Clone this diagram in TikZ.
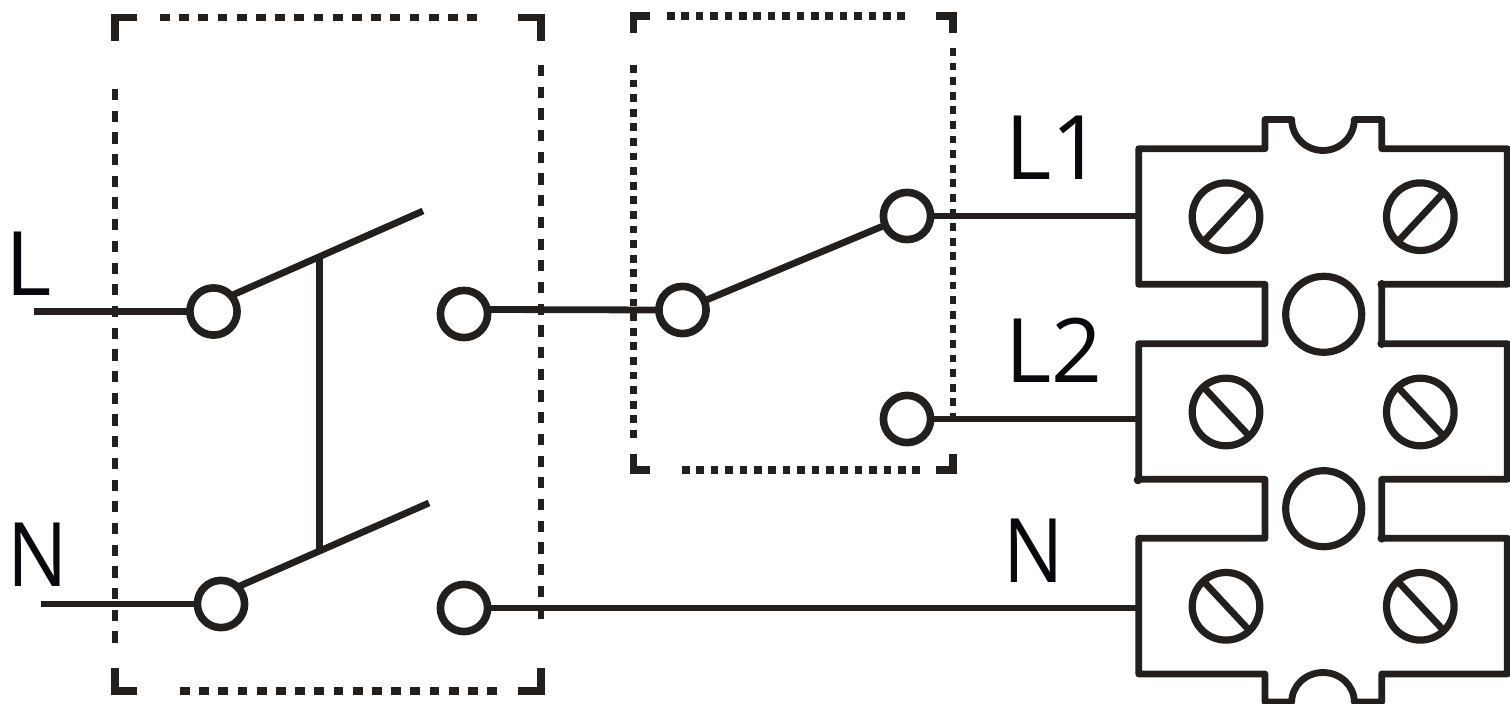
\documentclass[tikz,border=0pt]{standalone}
\usepackage{fontspec}
\setmainfont{Open Sans}
\definecolor{ink}{RGB}{35,31,28}
\definecolor{labelink}{RGB}{8,9,12}
\tikzset{
  wire/.style={draw=ink,line width=3.4pt},
  contact/.style={circle,draw=ink,line width=3.8pt,minimum size=23.6pt,inner sep=0pt,outer sep=0pt},
  screw/.style={circle,draw=ink,line width=3.6pt,minimum size=33.8pt,inner sep=0pt,outer sep=0pt},
  hole/.style={circle,draw=ink,line width=3.6pt,minimum size=38pt,inner sep=0pt,outer sep=0pt},
  slot/.style={draw=ink,line width=3.4pt},
  corner/.style={draw=ink,line width=3.6pt,line join=miter},
  dashA/.style={draw=ink,line width=3.6pt,dash pattern=on 4.9pt off 4.7pt},
  dashV/.style={draw=ink,line width=3.3pt,dash pattern=on 5.6pt off 5.25pt},
  dotsH/.style={draw=ink,line width=3.6pt,dash pattern=on 3.8pt off 3.4pt},
  dotsV/.style={draw=ink,line width=3.4pt,dash pattern=on 3.9pt off 3.4pt},
  lbl/.style={text=labelink,inner sep=0pt,outer sep=0pt,anchor=base west,font=\fontsize{44.5pt}{50pt}\selectfont},
  blob/.style={fill=ink,draw=none}
}
\begin{document}
\begin{tikzpicture}[x=0.5pt,y=-0.5pt]
\useasboundingbox (0,0) rectangle (1510,704);
% left dashed box
\draw[corner] (137,17.5) -- (115,17.5) -- (115,41);
\draw[corner] (518,17.5) -- (541,17.5) -- (541,41);
\draw[corner] (115,668) -- (115,691) -- (137,691);
\draw[corner] (518,691) -- (541,691) -- (541,668);
\draw[dashA] (160,17.5) -- (478,17.5);
\draw[dashA] (180,691) -- (498,691);
\draw[dashV] (115,89) -- (115,645);
\draw[dashV] (541,65) -- (541,621);
% right dotted box
\draw[corner] (650,16) -- (633.5,16) -- (633.5,33);
\draw[corner] (936,16) -- (953,16) -- (953,33);
\draw[corner] (633.5,454) -- (633.5,470) -- (650,470);
\draw[corner] (936,470) -- (953,470) -- (953,454);
\draw[dotsH] (667,16) -- (905,16);
\draw[dotsH] (682,470) -- (920,470);
\draw[dotsV] (633.5,65) -- (633.5,438);
\draw[dotsV] (953,48) -- (953,416);
% contacts
\node[contact] (c1) at (213.5,311.5) {};
\node[contact] (c2) at (464,314) {};
\node[contact] (c3) at (221,604) {};
\node[contact] (c4) at (464,608) {};
\node[contact] (c5) at (682.5,310) {};
\node[contact] (c6) at (907,216) {};
\node[contact] (c7) at (907,419) {};
\coordinate (inL) at (34,311.5);
\coordinate (inN) at (41,604);
\coordinate (b1) at (423,211);
\coordinate (b2) at (429,503);
\coordinate (j1) at (319.5,256);
\coordinate (j2) at (319.5,550);
\coordinate (t1) at (1138.7,216);
\coordinate (t2) at (1138.7,419);
\coordinate (t3) at (1138.7,608);
% wires
\draw[wire] (inL) -- (c1);
\draw[wire] (inN) -- (c3);
\draw[wire] (c1.42) -- (b1);
\draw[wire] (c3.46) -- (b2);
\draw[wire] (j1) -- (j2);
\draw[wire] (c2.11) -- (c5.west);
\draw[wire] (c5) -- (c6);
\draw[wire] (c6) -- (t1);
\draw[wire] (c7) -- (t2);
\draw[wire] (c4) -- (t3);
% terminal block
\draw[draw=ink,line width=3.4pt,line join=round]
  (1138.7,148.7) -- (1265,148.7) -- (1265,119.5) -- (1291.7,119.5)
  arc[start angle=180,end angle=360,x radius=31.3,y radius=-31]
  -- (1381.7,119.5) -- (1381.7,148.7) -- (1507.3,148.7) -- (1507.3,284.3)
  -- (1381.7,284.3) -- (1381.7,343.7) -- (1507.3,343.7) -- (1507.3,479.3)
  -- (1381.7,479.3) -- (1381.7,538.3) -- (1507.3,538.3) -- (1507.3,674)
  -- (1381.7,674) -- (1381.7,702) -- (1354.3,702)
  arc[start angle=0,end angle=180,x radius=31.3,y radius=-29.5]
  -- (1265,702) -- (1265,674) -- (1138.7,674) -- (1138.7,538.3)
  -- (1265,538.3) -- (1265,479.3) -- (1138.7,479.3) -- (1138.7,343.7)
  -- (1265,343.7) -- (1265,284.3) -- (1138.7,284.3) -- cycle;
\fill[blob] (1381.7,284.3) circle[radius=4.3];
\fill[blob] (1381.7,343.7) circle[radius=4.3];
\fill[blob] (1138,480) circle[radius=4.3];
\fill[blob] (1381.7,538.3) circle[radius=4.3];
% holes
\node[hole] (h1) at (1323.7,314.3) {};
\node[hole] (h2) at (1323.7,508.7) {};
% screws
\node[screw] (s1) at (1226,216.7) {};
\node[screw] (s2) at (1420.3,216.7) {};
\node[screw] (s3) at (1226,412) {};
\node[screw] (s4) at (1420.3,412) {};
\node[screw] (s5) at (1226,606.3) {};
\node[screw] (s6) at (1420.3,606.3) {};
\draw[slot] (s1.228) -- (s1.46);
\draw[slot] (s2.228) -- (s2.46);
\draw[slot] (s3.132) -- (s3.314);
\draw[slot] (s4.132) -- (s4.314);
\draw[slot] (s5.132) -- (s5.314);
\draw[slot] (s6.132) -- (s6.314);
% labels
\node[lbl] (lL) at (5.3,296) {L};
\node[lbl] (lN) at (7.7,587) {\scalebox{.9}[1]{N}};
\node[lbl] (lL1) at (1005.3,180) {L1};
\node[lbl] (lL2) at (1005.3,383) {L2};
\node[lbl] (lN2) at (1003.2,583) {\scalebox{.9}[1]{N}};
\end{tikzpicture}
\end{document}
